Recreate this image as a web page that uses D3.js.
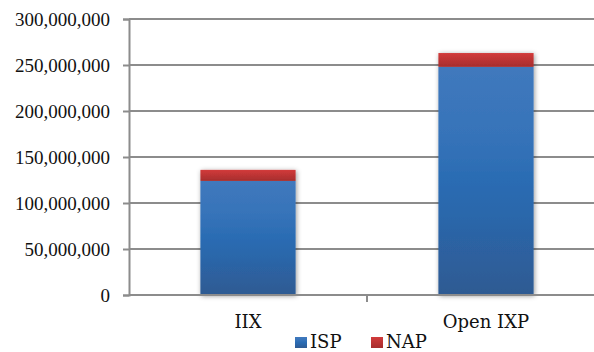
<!DOCTYPE html>
<html>
<head>
<meta charset="utf-8">
<script src="https://cdn.jsdelivr.net/npm/d3@7"></script>
<style>
  html, body { margin: 0; padding: 0; background: #fff; }
  svg { display: block; }
  text { font-family: "Liberation Serif", "DejaVu Serif", serif; fill: #111; }
  text.lbl { font-family: "DejaVu Serif", "Liberation Serif", serif; }
</style>
</head>
<body>
<svg id="chart" width="594" height="352"></svg>
<script>
// Traffic volume by exchange type, stacked ISP + NAP
const categories = ["IIX", "Open IXP"];
const seriesNames = ["ISP", "NAP"];
const ispValues = [124000000, 248000000];
const napValues = [12000000, 15000000];
const yTicks = [0, 50000000, 100000000, 150000000, 200000000, 250000000, 300000000];

const W = 594, H = 352;
const margin = { left: 129, right: -11, top: 19, bottom: 57 };

const svg = d3.select("#chart");

const x = d3.scaleBand()
  .domain(categories)
  .range([margin.left, W - margin.right])
  .paddingInner(0.6)
  .paddingOuter(0.3);

const y = d3.scaleLinear()
  .domain([0, 300000000])
  .range([H - margin.bottom, margin.top]);

const rows = categories.map((c, i) => ({ category: c, ISP: ispValues[i], NAP: napValues[i] }));
const stacked = d3.stack().keys(seriesNames)(rows);

const defs = svg.append("defs");
const grads = {
  ISP: [["0%", "#4079bd"], ["30%", "#3673b9"], ["50%", "#2a6cb3"], ["65%", "#2b67ab"], ["100%", "#2f5a92"]],
  NAP: [["0%", "#d23b3b"], ["100%", "#a62d2d"]]
};
Object.entries(grads).forEach(([k, stops]) => {
  const g = defs.append("linearGradient").attr("id", "g-" + k)
    .attr("x1", 0).attr("y1", 0).attr("x2", 0).attr("y2", 1);
  stops.forEach(([o, c]) => g.append("stop").attr("offset", o).attr("stop-color", c));
});
const shadow = defs.append("filter").attr("id", "shadow")
  .attr("x", "-20%").attr("y", "-20%").attr("width", "140%").attr("height", "140%");
shadow.append("feDropShadow").attr("dx", 1).attr("dy", 1)
  .attr("stdDeviation", 2.5).attr("flood-color", "#000").attr("flood-opacity", 0.4);

// gridlines
const plotRight = W;
svg.append("g").selectAll("line")
  .data(yTicks.filter(t => t > 0))
  .join("line")
  .attr("x1", margin.left).attr("x2", plotRight)
  .attr("y1", d => y(d)).attr("y2", d => y(d))
  .attr("stroke", "#8c8c8c").attr("stroke-width", 2);

// y axis
const yAxis = svg.append("g")
  .attr("transform", `translate(${margin.left},0)`)
  .call(d3.axisLeft(y).tickValues(yTicks).tickSize(6).tickPadding(13)
    .tickFormat(d3.format(",")));
yAxis.select(".domain").attr("stroke", "#8c8c8c").attr("stroke-width", 2);
yAxis.selectAll(".tick line").attr("stroke", "#8c8c8c").attr("stroke-width", 2);
yAxis.selectAll(".tick text")
  .style("font-family", '"Liberation Serif", serif')
  .attr("font-size", 19).attr("fill", "#111");

// bars
const barG = svg.append("g").attr("filter", "url(#shadow)");
stacked.forEach(layer => {
  barG.append("g").selectAll("rect")
    .data(layer)
    .join("rect")
    .attr("x", d => x(d.data.category))
    .attr("width", x.bandwidth())
    .attr("y", d => y(d[1]))
    .attr("height", d => y(d[0]) - y(d[1]))
    .attr("fill", `url(#g-${layer.key})`);
});

// x axis line with a divider tick between categories
const base = y(0);
svg.append("line")
  .attr("x1", margin.left).attr("x2", plotRight)
  .attr("y1", base).attr("y2", base)
  .attr("stroke", "#8c8c8c").attr("stroke-width", 2);
const dividers = [x.range()[0] + x.step()];
svg.append("g").selectAll("line")
  .data(dividers).join("line")
  .attr("x1", d => d).attr("x2", d => d)
  .attr("y1", base).attr("y2", base + 7)
  .attr("stroke", "#8c8c8c").attr("stroke-width", 2);

// category labels
svg.append("g").selectAll("text")
  .data(categories).join("text")
  .attr("class", "lbl")
  .attr("x", d => x(d) + x.bandwidth() / 2)
  .attr("y", 328)
  .attr("text-anchor", "middle")
  .attr("font-size", 18)
  .text(d => d);

// legend
const legendItems = [
  { name: "ISP", x: 295 },
  { name: "NAP", x: 371 }
];
const lg = svg.append("g");
legendItems.forEach(it => {
  lg.append("rect").attr("x", it.x).attr("y", 337).attr("width", 12).attr("height", 11)
    .attr("fill", `url(#g-${it.name})`);
  lg.append("text").attr("class", "lbl").attr("x", it.x + 15).attr("y", 347.5)
    .attr("font-size", 18).text(it.name);
});
</script>
</body>
</html>
